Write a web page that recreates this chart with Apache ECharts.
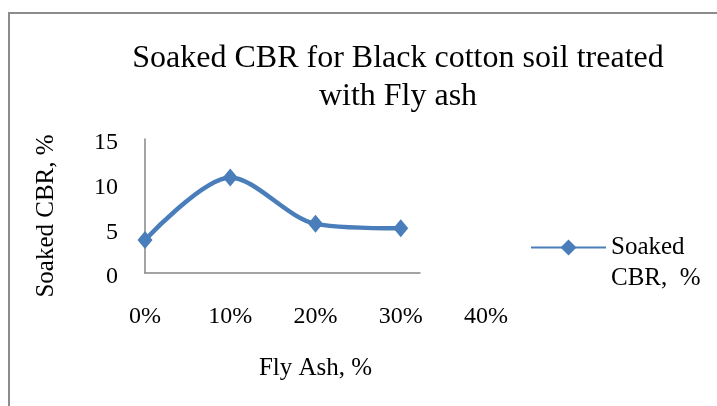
<!DOCTYPE html>
<html>
<head>
<meta charset="utf-8">
<script src="https://cdn.jsdelivr.net/npm/echarts@6/dist/echarts.min.js"></script>
<style>
  html, body { margin: 0; padding: 0; background: #fff; }
  #main { width: 717px; height: 406px; }
</style>
</head>
<body>
<div id="main"></div>
<script>
"use strict"
// fly ash content (%) and soaked CBR (%)
var flyAsh = [0, 10, 20, 30];
var soakedCbr = [3.7, 10.7, 5.5, 5.0];
var seriesName = 'Soaked CBR,  %';
var titleText = 'Soaked CBR for Black cotton soil treated\nwith Fly ash';

var serif = '"Liberation Serif", "Times New Roman", serif';
var blue = '#4a7ebb';
var axisGrey = '#868686';

var chart = echarts.init(document.getElementById('main'), null, { renderer: 'canvas' });

var points = [];
for (var i = 0; i < flyAsh.length; i++) {
    points.push([flyAsh[i], soakedCbr[i]]);
}

var option = {
    animation: false,
    backgroundColor: '#fff',
    graphic: [{
        type: 'rect',
        shape: { x: 9, y: 13, width: 760, height: 460 },
        style: { fill: 'none', stroke: '#8c8c8c', lineWidth: 2 },
        z: -1
    }],
    title: {
        text: titleText,
        left: 398,
        top: 40,
        padding: 0,
        textAlign: 'center',
        textStyle: {
            fontFamily: serif,
            fontSize: 32,
            fontWeight: 'normal',
            color: '#000',
            lineHeight: 38
        }
    },
    legend: {
        left: 530,
        top: 201,
        padding: 0,
        itemWidth: 75,
        itemHeight: 20,
        itemGap: 0,
        formatter: function () {
            return ' \nSoaked\nCBR,  %';
        },
        textStyle: {
            fontFamily: serif,
            fontSize: 25,
            color: '#000',
            lineHeight: 31
        },
        data: [seriesName]
    },
    grid: [
        { left: 145, top: 139, width: 341, height: 134 },
        // short x axis line like the original
        { left: 145, top: 139, width: 275, height: 134 }
    ],
    xAxis: [{
        type: 'value',
        gridIndex: 0,
        min: 0,
        max: 40,
        interval: 10,
        name: 'Fly Ash, %',
        nameLocation: 'middle',
        nameGap: 83,
        nameTextStyle: { fontFamily: serif, fontSize: 25, color: '#000' },
        axisLine: { show: false },
        axisTick: { show: false },
        splitLine: { show: false },
        axisLabel: {
            formatter: '{value}%',
            margin: 32,
            fontFamily: serif,
            fontSize: 24,
            color: '#000'
        }
    }, {
        type: 'value',
        gridIndex: 1,
        min: 0,
        max: 1,
        axisLine: { show: true, lineStyle: { color: axisGrey, width: 1.5 } },
        axisTick: { show: false },
        axisLabel: { show: false },
        splitLine: { show: false }
    }],
    yAxis: [{
        type: 'value',
        gridIndex: 0,
        min: 0,
        max: 15,
        interval: 5,
        name: 'Soaked CBR, %',
        nameLocation: 'middle',
        nameGap: 86,
        nameTextStyle: {
            fontFamily: serif,
            fontSize: 25,
            color: '#000',
            padding: [0, 20, 0, 0]
        },
        axisLine: { show: true, lineStyle: { color: axisGrey, width: 1.5 } },
        axisTick: { show: false },
        splitLine: { show: false },
        axisLabel: {
            margin: 27,
            verticalAlign: 'top',
            padding: [-8, 0, 0, 0],
            fontFamily: serif,
            fontSize: 24,
            color: '#000'
        }
    }, {
        type: 'value',
        gridIndex: 1,
        show: false
    }],
    series: [{
        name: seriesName,
        type: 'line',
        xAxisIndex: 0,
        yAxisIndex: 0,
        data: points,
        smooth: 0.3,
        symbol: 'diamond',
        symbolSize: [15, 18],
        color: blue,
        itemStyle: { color: blue },
        lineStyle: { color: blue, width: 4.5 }
    }]
};

chart.setOption(option);
</script>
</body>
</html>
